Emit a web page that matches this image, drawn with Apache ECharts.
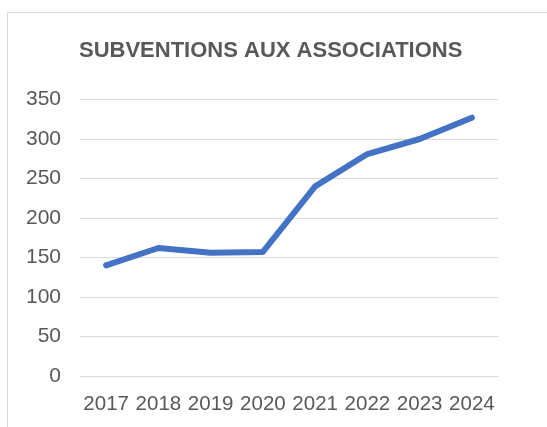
<!DOCTYPE html>
<html><head><meta charset="utf-8">
<script src="https://cdn.jsdelivr.net/npm/echarts@6/dist/echarts.min.js"></script>
<style>html,body{margin:0;padding:0;background:#fff}#c{width:547px;height:427px}</style>
</head><body><div id="c"></div>
<script>
var categories = ['2017','2018','2019','2020','2021','2022','2023','2024'];
var values = [140, 162, 156, 157, 240, 281, 300, 327];
var titleText = 'SUBVENTIONS AUX ASSOCIATIONS';
var chart = echarts.init(document.getElementById('c'));
chart.setOption({
  animation: false,
  graphic: [{type:'rect', shape:{x:7.5,y:12.5,width:700,height:600}, style:{fill:'none', stroke:'#d9d9d9', lineWidth:1}}],
  title: {text: titleText, left: 74, top: 35,
    textStyle: {fontFamily: 'Liberation Sans', fontWeight: 'bold', fontSize: 22, color: '#595959'}},
  grid: {left: 80, right: 49, top: 99.5, bottom: 51, containLabel: false},
  xAxis: {type: 'category', data: categories, boundaryGap: true,
    axisLine: {show: true, lineStyle: {color: '#d9d9d9', width: 1}},
    axisTick: {show: false},
    axisLabel: {interval: 0, hideOverlap: false, color: '#595959', fontFamily: 'Liberation Sans', fontSize: 20.5, margin: 18}},
  yAxis: {type: 'value', min: 0, max: 350, interval: 50,
    axisLine: {show: false}, axisTick: {show: false},
    splitLine: {lineStyle: {color: '#d9d9d9', width: 1}},
    axisLabel: {color: '#595959', fontFamily: 'Liberation Sans', fontSize: 21, margin: 19}},
  series: [{type: 'line', data: values, symbol: 'none',
    lineStyle: {color: '#4472c4', width: 6, cap: 'round', join: 'round'}}]
});
</script></body></html>
